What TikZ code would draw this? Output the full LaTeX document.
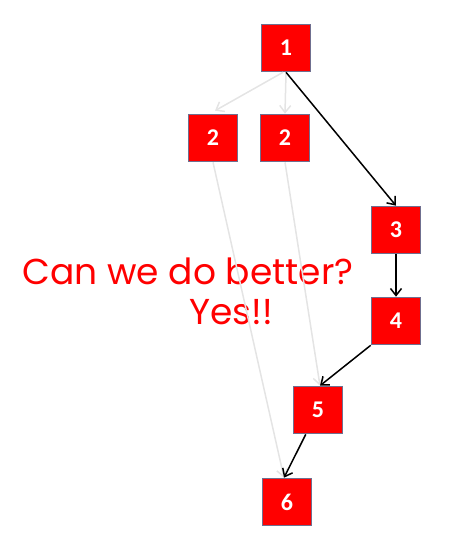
\documentclass[tikz,border=0pt]{standalone}
\usepackage{fontspec}
\usepackage{xcolor}
\usepackage{tikz}
\usetikzlibrary{arrows.meta,positioning,calc}
\newfontfamily\numfont{Carlito}
\newfontfamily\gothicfont{Poppins}
\definecolor{boxred}{HTML}{FF0000}
\definecolor{boxedge}{HTML}{6F6F8F}
\definecolor{faded}{HTML}{E4E4E4}

\begin{document}
\begin{tikzpicture}[
    x=1pt, y=-1pt,
    vbox/.style={rectangle, draw=boxedge, line width=1.6pt, fill=boxred,
                 minimum width=49pt, minimum height=47pt, inner sep=0pt,
                 text=white, font=\numfont\bfseries\fontsize{24}{24}\selectfont},
    arr/.style={-{Straight Barb[length=7pt,width=11pt]}, line width=1.5pt, black},
    ghost/.style={-{Straight Barb[length=7pt,width=11pt]}, line width=1.5pt, faded},
    msg/.style={text=boxred, font=\gothicfont\fontsize{36}{36}\selectfont,
                inner sep=0pt},
]
\useasboundingbox (0,0) rectangle (458,545);

%% ─── Vertices ───────────────────────────────────────────────────────────────
\node[vbox] (v1)  at (286,48)  {1};
\node[vbox] (v2a) at (213,138) {2};
\node[vbox] (v2b) at (285,138) {2};
\node[vbox] (v3)  at (396,230) {3};
\node[vbox] (v4)  at (396,321) {4};
\node[vbox] (v5)  at (318,410) {5};
\node[vbox] (v6)  at (287,502) {6};

%% ─── Message ────────────────────────────────────────────────────────────────
\node[msg] (ask) at (188,271) {Can we do better?};
\node[msg] (yes) at (231,312) {Yes!!};

%% ─── Discarded paths (faded) ────────────────────────────────────────────────
\draw[ghost] ($(v1.south)+(-3,0)$) -- ($(v2a.north)+(2,-3)$);
\draw[ghost] (v1.south) -- (v2b.north);
\draw[ghost] (v2a.south) -- ($(v6.north)+(-3,0)$);
\draw[ghost] (v2b.south) -- ($(v5.north)+(2,0)$);

%% ─── Chosen path ────────────────────────────────────────────────────────────
\draw[arr] (v1.south) -- (v3.north);
\draw[arr] (v3) -- (v4);
\draw[arr] (v4.south west) -- ($(v5.north)+(2,0)$);
\draw[arr] (v5) -- ($(v6.north)+(-3,0)$);

\end{tikzpicture}
\end{document}
